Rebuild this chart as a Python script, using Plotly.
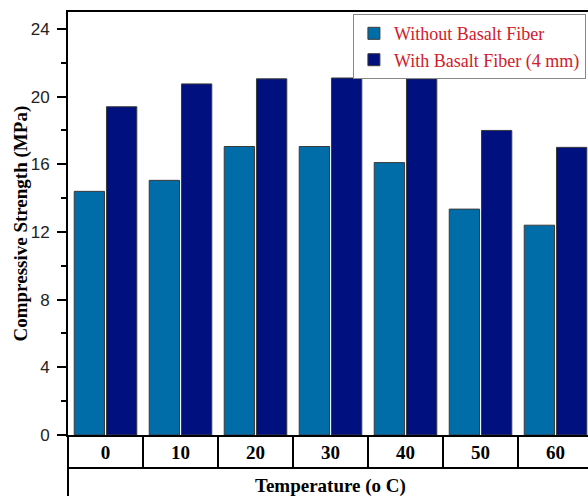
import plotly.graph_objects as go

temperatures = ["0", "10", "20", "30", "40", "50", "60"]
without_fiber = [14.4, 15.05, 17.05, 17.05, 16.1, 13.35, 12.4]
with_fiber = [19.4, 20.75, 21.05, 21.1, 21.05, 18.0, 17.0]
y_ticks = [0, 4, 8, 12, 16, 20, 24]

serif = "Liberation Serif"
sans = "Liberation Sans"
idx = list(range(len(temperatures)))

fig = go.Figure()
fig.add_trace(go.Bar(x=idx, y=without_fiber, name="Without Basalt Fiber",
                     marker=dict(color="#006CA8", line=dict(color="#3a3a3a", width=1))))
fig.add_trace(go.Bar(x=idx, y=with_fiber, name="With Basalt Fiber (4 mm)",
                     marker=dict(color="#00107F", line=dict(color="#3a3a3a", width=1))))

shapes = []
# category table dividers below the axis
for i in range(1, len(temperatures) + 1):
    shapes.append(dict(type="line", xref="x", yref="paper", x0=i - 0.5, x1=i - 0.5,
                       ysizemode="pixel", yanchor=0, y0=0, y1=-33,
                       line=dict(color="black", width=2)))
shapes.append(dict(type="line", xref="paper", yref="paper", x0=0, x1=1,
                   ysizemode="pixel", yanchor=0, y0=-33, y1=-33,
                   line=dict(color="black", width=2)))
shapes.append(dict(type="line", xref="paper", yref="paper", x0=0, x1=0,
                   ysizemode="pixel", yanchor=0, y0=0, y1=-62,
                   line=dict(color="black", width=2)))

fig.update_layout(
    width=588, height=496,
    margin=dict(l=68, r=0, t=12, b=61, autoexpand=False),
    plot_bgcolor="white", paper_bgcolor="white",
    barmode="group", bargap=0.14, bargroupgap=0.06,
    showlegend=True,
    legend=dict(x=0.996, y=0.995, xanchor="right", yanchor="top",
                font=dict(family=serif, size=18, color="#d0202a"),
                bordercolor="#888888", borderwidth=1, bgcolor="white",
                itemwidth=30, tracegroupgap=0),
    shapes=shapes,
    annotations=[
        dict(text="<b>Compressive Strength (MPa)</b>", xref="paper", yref="paper",
             x=0, y=0.5, xshift=-48, xanchor="center", yanchor="middle", textangle=-90, showarrow=False,
             font=dict(family=serif, size=19, color="black")),
        dict(text="<b>Temperature (o C)</b>", xref="x", yref="paper",
             x=3, y=0, yshift=-38, yanchor="top", showarrow=False,
             font=dict(family=serif, size=19, color="black")),
    ],
)
fig.update_xaxes(range=[-0.5, 6.433], tickmode="array", tickvals=idx, ticktext=["<b>%s</b>" % t for t in temperatures],
                 ticks="", showline=True, linecolor="black", linewidth=2, mirror=True,
                 showgrid=False, zeroline=False,
                 tickfont=dict(family=serif, size=19, color="black"), ticklabelstandoff=-1)
fig.update_yaxes(range=[0, 25], tickmode="array", tickvals=y_ticks,
                 ticks="outside", ticklen=9, tickwidth=2, tickcolor="black",
                 minor=dict(tickmode="linear", tick0=0, dtick=2, ticks="outside", ticklen=5, tickwidth=2, tickcolor="black"),
                 showline=True, linecolor="black", linewidth=2, mirror=False,
                 showgrid=False, zeroline=False, ticklabelstandoff=4,
                 tickfont=dict(family=sans, size=17, color="#222222"))

fig.write_html("out.html", config={"displayModeBar": False},
               post_script="document.body.style.margin='0px';")
